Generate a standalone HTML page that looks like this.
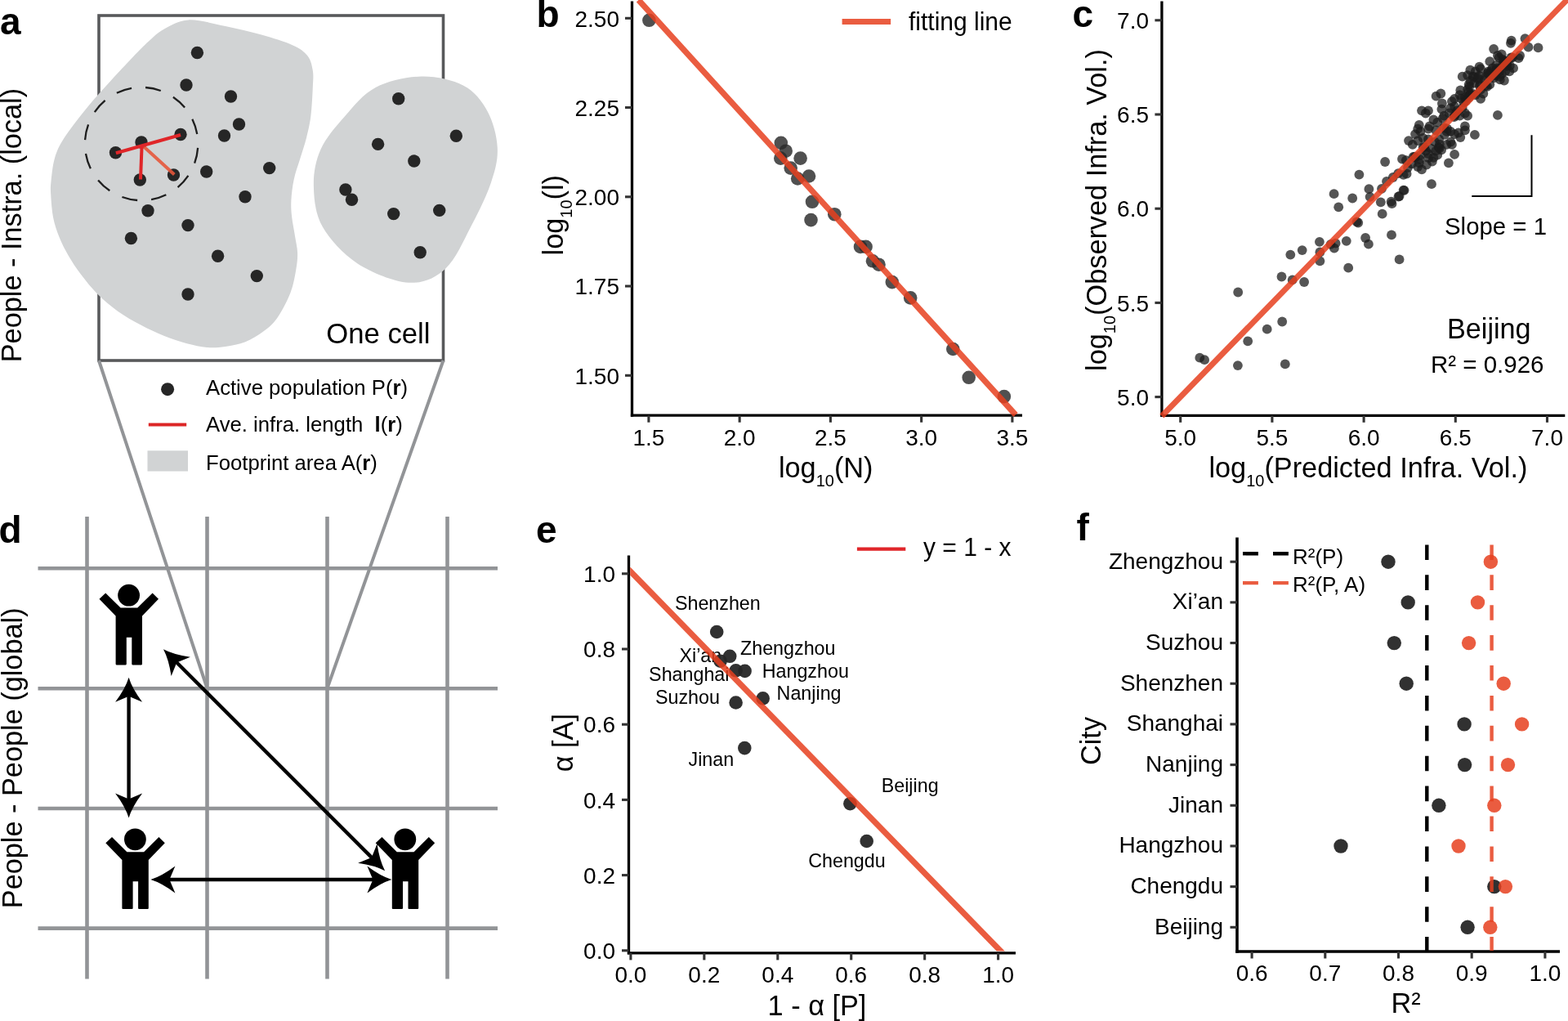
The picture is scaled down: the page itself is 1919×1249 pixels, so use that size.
<!DOCTYPE html>
<html><head><meta charset="utf-8"><style>
html,body{margin:0;padding:0;background:#fff;}
svg{display:block;}
text{font-family:'Liberation Sans', Arial, Helvetica, sans-serif;}
</style></head><body>
<svg width="1919" height="1249" viewBox="0 0 1919 1249">
<rect width="1919" height="1249" fill="#fff"/>
<rect x="121" y="19" width="421.5" height="422" fill="none" stroke="#58595b" stroke-width="3.6"/>
<path d="M230.6,24.4 C243.2,23.8 260.9,28.9 275.8,31.9 C290.7,34.9 306.2,38.7 320.0,42.6 C333.8,46.5 349.1,51.1 358.5,55.4 C367.9,59.7 372.3,63.1 376.4,68.2 C380.4,73.3 381.7,79.8 382.8,86.2 C383.9,92.6 383.2,97.3 382.8,106.7 C382.4,116.1 381.6,132.3 380.3,142.6 C379.0,152.8 377.2,159.7 375.1,168.2 C373.0,176.7 370.0,185.2 367.4,193.8 C364.8,202.4 361.5,210.9 359.7,219.5 C357.9,228.1 356.8,237.4 356.4,245.1 C356.0,252.8 356.4,258.3 357.2,265.6 C358.0,272.9 359.9,281.4 361.0,288.7 C362.1,296.0 363.9,302.4 364.1,309.2 C364.3,316.0 363.7,321.6 362.3,329.7 C360.9,337.8 359.2,348.2 355.5,358.0 C351.8,367.8 345.2,380.3 339.8,388.2 C334.4,396.1 329.5,400.1 322.9,405.1 C316.3,410.1 308.1,415.2 300.3,418.3 C292.5,421.4 283.7,422.8 275.8,423.9 C267.9,425.0 261.0,425.5 253.2,424.9 C245.4,424.3 237.6,422.5 228.8,420.2 C220.0,417.9 209.9,414.6 200.5,410.8 C191.1,407.0 181.7,402.6 172.3,397.6 C162.9,392.6 152.9,387.0 144.1,380.7 C135.3,374.4 127.1,367.5 119.6,360.0 C112.1,352.5 104.9,343.4 98.9,335.5 C93.0,327.6 88.3,320.4 83.9,312.9 C79.5,305.4 75.7,298.1 72.6,290.3 C69.5,282.5 66.8,274.7 65.1,265.9 C63.4,257.1 62.6,244.9 62.2,237.6 C61.8,230.3 61.7,229.3 62.5,222.0 C63.3,214.7 64.3,202.6 66.9,193.8 C69.5,185.0 71.6,179.7 78.2,169.3 C84.8,159.0 97.1,143.3 106.5,131.7 C115.9,120.1 125.3,110.0 134.7,99.7 C144.1,89.4 155.1,77.8 162.9,69.6 C170.7,61.4 175.4,56.4 181.7,50.8 C188.0,45.1 192.3,40.1 200.5,35.7 C208.7,31.3 218.0,25.0 230.6,24.4Z" fill="#d1d3d4"/>
<path d="M515.7,93.5 C533.6,93.1 553.8,97.6 567.3,104.7 C580.8,111.8 589.6,123.3 596.5,136.0 C603.4,148.7 608.1,166.3 608.8,180.9 C609.5,195.5 606.3,207.4 600.9,223.5 C595.5,239.6 585.6,259.7 576.3,277.3 C567.0,294.9 557.6,317.5 544.9,328.9 C532.2,340.3 517.9,346.8 500.0,345.7 C482.1,344.6 454.9,333.6 437.3,322.2 C419.8,310.8 403.6,293.0 394.7,277.3 C385.8,261.6 384.3,243.7 383.9,228.0 C383.5,212.3 386.1,197.3 392.4,183.1 C398.7,168.9 410.4,155.5 421.6,142.8 C432.8,130.1 444.0,115.1 459.7,106.9 C475.4,98.7 497.8,93.9 515.7,93.5Z" fill="#d1d3d4"/>
<path d="M185.12,244.15 A69.2,69.2 0 0 0 203.32,238.25" fill="none" stroke="#1e1e1e" stroke-width="2.3"/>
<path d="M217.58,229.01 A69.2,69.2 0 0 0 230.40,214.80" fill="none" stroke="#1e1e1e" stroke-width="2.3"/>
<path d="M238.13,199.67 A69.2,69.2 0 0 0 242.12,180.95" fill="none" stroke="#1e1e1e" stroke-width="2.3"/>
<path d="M241.25,163.98 A69.2,69.2 0 0 0 235.35,145.78" fill="none" stroke="#1e1e1e" stroke-width="2.3"/>
<path d="M226.11,131.52 A69.2,69.2 0 0 0 211.90,118.70" fill="none" stroke="#1e1e1e" stroke-width="2.3"/>
<path d="M196.77,110.97 A69.2,69.2 0 0 0 178.05,106.98" fill="none" stroke="#1e1e1e" stroke-width="2.3"/>
<path d="M161.08,107.85 A69.2,69.2 0 0 0 142.88,113.75" fill="none" stroke="#1e1e1e" stroke-width="2.3"/>
<path d="M128.62,122.99 A69.2,69.2 0 0 0 115.80,137.20" fill="none" stroke="#1e1e1e" stroke-width="2.3"/>
<path d="M108.07,152.33 A69.2,69.2 0 0 0 104.08,171.05" fill="none" stroke="#1e1e1e" stroke-width="2.3"/>
<path d="M104.95,188.02 A69.2,69.2 0 0 0 110.85,206.22" fill="none" stroke="#1e1e1e" stroke-width="2.3"/>
<path d="M120.09,220.48 A69.2,69.2 0 0 0 134.30,233.30" fill="none" stroke="#1e1e1e" stroke-width="2.3"/>
<path d="M149.43,241.03 A69.2,69.2 0 0 0 168.15,245.02" fill="none" stroke="#1e1e1e" stroke-width="2.3"/>
<circle cx="241.4" cy="64.5" r="7.7" fill="#262626"/>
<circle cx="228" cy="104" r="7.7" fill="#262626"/>
<circle cx="282.5" cy="118" r="7.7" fill="#262626"/>
<circle cx="292.5" cy="152" r="7.7" fill="#262626"/>
<circle cx="274.5" cy="166" r="7.7" fill="#262626"/>
<circle cx="221" cy="164.5" r="7.7" fill="#262626"/>
<circle cx="173" cy="174" r="7.7" fill="#262626"/>
<circle cx="141.5" cy="186.7" r="7.7" fill="#262626"/>
<circle cx="171.3" cy="220" r="7.7" fill="#262626"/>
<circle cx="212.5" cy="214" r="7.7" fill="#262626"/>
<circle cx="252.7" cy="210" r="7.7" fill="#262626"/>
<circle cx="329.7" cy="205.6" r="7.7" fill="#262626"/>
<circle cx="300" cy="240.8" r="7.7" fill="#262626"/>
<circle cx="181" cy="257.7" r="7.7" fill="#262626"/>
<circle cx="230" cy="275.6" r="7.7" fill="#262626"/>
<circle cx="160.4" cy="291.5" r="7.7" fill="#262626"/>
<circle cx="266.6" cy="313.3" r="7.7" fill="#262626"/>
<circle cx="314.3" cy="337.6" r="7.7" fill="#262626"/>
<circle cx="230" cy="360" r="7.7" fill="#262626"/>
<circle cx="487.7" cy="120.8" r="7.7" fill="#262626"/>
<circle cx="558.3" cy="166.3" r="7.7" fill="#262626"/>
<circle cx="462.6" cy="176.4" r="7.7" fill="#262626"/>
<circle cx="506.8" cy="197" r="7.7" fill="#262626"/>
<circle cx="422.9" cy="232" r="7.7" fill="#262626"/>
<circle cx="430.5" cy="244.3" r="7.7" fill="#262626"/>
<circle cx="481.7" cy="261.6" r="7.7" fill="#262626"/>
<circle cx="537.7" cy="257.4" r="7.7" fill="#262626"/>
<circle cx="514.2" cy="308.7" r="7.7" fill="#262626"/>
<g stroke-width="4" stroke-linecap="butt" fill="none">
<line x1="175" y1="178.5" x2="213.3" y2="213.4" stroke="#E5573B" stroke-opacity="0.9"/>
<line x1="173.6" y1="178" x2="172" y2="219.5" stroke="#E02629"/>
<line x1="141.9" y1="187.2" x2="221" y2="165" stroke="#E02629"/>
</g>
<text transform="translate(399.3,420.0) scale(1,1.02)" font-size="34.7" text-anchor="start" font-weight="normal" fill="#000" >One cell</text>
<line x1="121" y1="441" x2="253.5" y2="842" stroke="#929497" stroke-width="4"/>
<line x1="542.5" y1="441" x2="400.5" y2="842" stroke="#929497" stroke-width="4"/>
<circle cx="205.1" cy="476.2" r="8" fill="#262626"/>
<text x="252.0" y="483.0" font-size="25.7" text-anchor="start" font-weight="normal" fill="#000" >Active population P(<tspan font-weight="bold">r</tspan>)</text>
<line x1="181.8" y1="519.6" x2="228.2" y2="519.6" stroke="#DC2626" stroke-width="4"/>
<text x="252.0" y="527.7" font-size="25.7" text-anchor="start" font-weight="normal" fill="#000" >Ave. infra. length&#160;&#160;<tspan font-weight="bold">l</tspan>(<tspan font-weight="bold">r</tspan>)</text>
<rect x="180.5" y="551.3" width="49.5" height="25.2" fill="#d1d3d4"/>
<text x="252.0" y="574.6" font-size="25.7" text-anchor="start" font-weight="normal" fill="#000" >Footprint area A(<tspan font-weight="bold">r</tspan>)</text>
<text x="0.0" y="42.0" font-size="46" text-anchor="start" font-weight="bold" fill="#000" >a</text>
<text transform="translate(26,275.6) rotate(-90) scale(1,1.02)" font-size="34.3" text-anchor="middle">People - Instra. (local)</text>
<g stroke="#929497" stroke-width="4.6">
<line x1="106.5" y1="632" x2="106.5" y2="1197.5"/>
<line x1="253.5" y1="632" x2="253.5" y2="1197.5"/>
<line x1="400.5" y1="632" x2="400.5" y2="1197.5"/>
<line x1="547.5" y1="632" x2="547.5" y2="1197.5"/>
<line x1="46.5" y1="695.2" x2="609" y2="695.2"/>
<line x1="46.5" y1="842.2" x2="609" y2="842.2"/>
<line x1="46.5" y1="989" x2="609" y2="989"/>
<line x1="46.5" y1="1135.6" x2="609" y2="1135.6"/>
</g>
<text x="-1.5" y="664.0" font-size="46" text-anchor="start" font-weight="bold" fill="#000" >d</text>
<text transform="translate(26.5,927.3) rotate(-90) scale(1,1.02)" font-size="34.3" text-anchor="middle">People - People (global)</text>
<circle cx="157.6" cy="728.2" r="13.4" fill="#000"/><path d="M121.5,732.7 L129.2,725.4 L147.6,743.6 L168.3,743.6 L186.6,725.4 L194.0,732.7 L174.0,753.5 L174.0,812.3 Q174.0,813.4 173.0,813.4 L162.3,813.4 Q161.3,813.4 161.3,812.3 L161.3,779.7 L154.8,779.7 L154.8,812.3 Q154.8,813.4 153.8,813.4 L142.6,813.4 Q141.6,813.4 141.6,812.3 L141.6,753.5 Z" fill="#000"/>
<circle cx="165.4" cy="1026.8" r="13.4" fill="#000"/><path d="M129.3,1031.3 L137.0,1024.0 L155.4,1042.2 L176.1,1042.2 L194.4,1024.0 L201.8,1031.3 L181.8,1052.1 L181.8,1110.9 Q181.8,1112.0 180.8,1112.0 L170.1,1112.0 Q169.1,1112.0 169.1,1110.9 L169.1,1078.3 L162.6,1078.3 L162.6,1110.9 Q162.6,1112.0 161.6,1112.0 L150.4,1112.0 Q149.4,1112.0 149.4,1110.9 L149.4,1052.1 Z" fill="#000"/>
<circle cx="495.8" cy="1026.8" r="13.4" fill="#000"/><path d="M459.7,1031.3 L467.4,1024.0 L485.8,1042.2 L506.5,1042.2 L524.8,1024.0 L532.2,1031.3 L512.2,1052.1 L512.2,1110.9 Q512.2,1112.0 511.2,1112.0 L500.5,1112.0 Q499.5,1112.0 499.5,1110.9 L499.5,1078.3 L493.0,1078.3 L493.0,1110.9 Q493.0,1112.0 492.0,1112.0 L480.8,1112.0 Q479.8,1112.0 479.8,1110.9 L479.8,1052.1 Z" fill="#000"/>
<line x1="157.6" y1="848.7" x2="157.6" y2="980.5" stroke="#000" stroke-width="4.4"/>
<path d="M157.6,1000.5 Q161.7,987.0 174.1,970.5 L157.6,977.5 L141.1,970.5 Q153.5,987.0 157.6,1000.5 Z" fill="#000"/>
<path d="M157.6,828.7 Q153.5,842.2 141.1,858.7 L157.6,851.7 L174.1,858.7 Q161.7,842.2 157.6,828.7 Z" fill="#000"/>
<line x1="204.4" y1="1076.0" x2="459.4" y2="1076.0" stroke="#000" stroke-width="4.4"/>
<path d="M479.4,1076.0 Q465.9,1071.9 449.4,1059.5 L456.4,1076.0 L449.4,1092.5 Q465.9,1080.1 479.4,1076.0 Z" fill="#000"/>
<path d="M184.4,1076.0 Q197.9,1080.1 214.4,1092.5 L207.4,1076.0 L214.4,1059.5 Q197.9,1071.9 184.4,1076.0 Z" fill="#000"/>
<line x1="214.1" y1="808.3" x2="457.0" y2="1051.1" stroke="#000" stroke-width="4.4"/>
<path d="M471.1,1065.2 Q464.5,1052.7 461.5,1032.3 L454.8,1048.9 L438.2,1055.7 Q458.6,1058.6 471.1,1065.2 Z" fill="#000"/>
<path d="M200.0,794.2 Q206.6,806.7 209.6,827.1 L216.3,810.5 L232.9,803.7 Q212.5,800.8 200.0,794.2 Z" fill="#000"/>
<line x1="773.5" y1="1.5" x2="773.5" y2="509.84999999999997" stroke="#000" stroke-width="3.3"/>
<line x1="771.85" y1="508.2" x2="1251" y2="508.2" stroke="#000" stroke-width="3.3"/>
<line x1="765.0" y1="22.3" x2="773.5" y2="22.3" stroke="#333" stroke-width="3.1"/>
<text transform="translate(758.0,32.5) scale(1,1.02)" font-size="28" text-anchor="end" font-weight="normal" fill="#000" >2.50</text>
<line x1="765.0" y1="131.55" x2="773.5" y2="131.55" stroke="#333" stroke-width="3.1"/>
<text transform="translate(758.0,141.8) scale(1,1.02)" font-size="28" text-anchor="end" font-weight="normal" fill="#000" >2.25</text>
<line x1="765.0" y1="240.8" x2="773.5" y2="240.8" stroke="#333" stroke-width="3.1"/>
<text transform="translate(758.0,251.0) scale(1,1.02)" font-size="28" text-anchor="end" font-weight="normal" fill="#000" >2.00</text>
<line x1="765.0" y1="350.05" x2="773.5" y2="350.05" stroke="#333" stroke-width="3.1"/>
<text transform="translate(758.0,360.2) scale(1,1.02)" font-size="28" text-anchor="end" font-weight="normal" fill="#000" >1.75</text>
<line x1="765.0" y1="459.3" x2="773.5" y2="459.3" stroke="#333" stroke-width="3.1"/>
<text transform="translate(758.0,469.5) scale(1,1.02)" font-size="28" text-anchor="end" font-weight="normal" fill="#000" >1.50</text>
<line x1="793.9" y1="508.2" x2="793.9" y2="516.7" stroke="#333" stroke-width="3.1"/>
<text transform="translate(793.9,544.6) scale(1,1.02)" font-size="28" text-anchor="middle" font-weight="normal" fill="#000" >1.5</text>
<line x1="905.15" y1="508.2" x2="905.15" y2="516.7" stroke="#333" stroke-width="3.1"/>
<text transform="translate(905.1,544.6) scale(1,1.02)" font-size="28" text-anchor="middle" font-weight="normal" fill="#000" >2.0</text>
<line x1="1016.4" y1="508.2" x2="1016.4" y2="516.7" stroke="#333" stroke-width="3.1"/>
<text transform="translate(1016.4,544.6) scale(1,1.02)" font-size="28" text-anchor="middle" font-weight="normal" fill="#000" >2.5</text>
<line x1="1127.65" y1="508.2" x2="1127.65" y2="516.7" stroke="#333" stroke-width="3.1"/>
<text transform="translate(1127.7,544.6) scale(1,1.02)" font-size="28" text-anchor="middle" font-weight="normal" fill="#000" >3.0</text>
<line x1="1238.9" y1="508.2" x2="1238.9" y2="516.7" stroke="#333" stroke-width="3.1"/>
<text transform="translate(1238.9,544.6) scale(1,1.02)" font-size="28" text-anchor="middle" font-weight="normal" fill="#000" >3.5</text>
<circle cx="794.4" cy="24.8" r="8.3" fill="#2a2a2a" fill-opacity="0.82"/>
<circle cx="955.8" cy="174.8" r="8.3" fill="#2a2a2a" fill-opacity="0.82"/>
<circle cx="961.7" cy="184.7" r="8.3" fill="#2a2a2a" fill-opacity="0.82"/>
<circle cx="955.3" cy="193.6" r="8.3" fill="#2a2a2a" fill-opacity="0.82"/>
<circle cx="979.6" cy="193.6" r="8.3" fill="#2a2a2a" fill-opacity="0.82"/>
<circle cx="967.7" cy="205.6" r="8.3" fill="#2a2a2a" fill-opacity="0.82"/>
<circle cx="976.2" cy="218.5" r="8.3" fill="#2a2a2a" fill-opacity="0.82"/>
<circle cx="990" cy="215.5" r="8.3" fill="#2a2a2a" fill-opacity="0.82"/>
<circle cx="994" cy="246.8" r="8.3" fill="#2a2a2a" fill-opacity="0.82"/>
<circle cx="992.5" cy="269.1" r="8.3" fill="#2a2a2a" fill-opacity="0.82"/>
<circle cx="1021.3" cy="262.2" r="8.3" fill="#2a2a2a" fill-opacity="0.82"/>
<circle cx="1053" cy="301.9" r="8.3" fill="#2a2a2a" fill-opacity="0.82"/>
<circle cx="1059.6" cy="301.9" r="8.3" fill="#2a2a2a" fill-opacity="0.82"/>
<circle cx="1068" cy="319.3" r="8.3" fill="#2a2a2a" fill-opacity="0.82"/>
<circle cx="1075.5" cy="323.7" r="8.3" fill="#2a2a2a" fill-opacity="0.82"/>
<circle cx="1091.8" cy="345.1" r="8.3" fill="#2a2a2a" fill-opacity="0.82"/>
<circle cx="1114.2" cy="364.4" r="8.3" fill="#2a2a2a" fill-opacity="0.82"/>
<circle cx="1166.3" cy="427" r="8.3" fill="#2a2a2a" fill-opacity="0.82"/>
<circle cx="1185.7" cy="461.8" r="8.3" fill="#2a2a2a" fill-opacity="0.82"/>
<circle cx="1228.9" cy="485.1" r="8.3" fill="#2a2a2a" fill-opacity="0.82"/>
<line x1="781.5" y1="0" x2="1243" y2="507.5" stroke="#E63F1F" stroke-width="7.2" stroke-opacity="0.85"/>
<line x1="1030.6" y1="26.5" x2="1090.1" y2="26.5" stroke="#E63F1F" stroke-width="7.2" stroke-opacity="0.85"/>
<text transform="translate(1112.0,36.6) scale(1,1.02)" font-size="30" text-anchor="start" font-weight="normal" fill="#000" >fitting line</text>
<text x="656.5" y="33.0" font-size="46" text-anchor="start" font-weight="bold" fill="#000" >b</text>
<text transform="translate(1010.7,583.6) scale(1,1.02)" font-size="34.3" text-anchor="middle">log<tspan font-size="20" dy="11.3">10</tspan><tspan dy="-11.3">(N)</tspan></text>
<text transform="translate(688.8,263.2) rotate(-90) scale(1,1.02)" font-size="34.3" text-anchor="middle">log<tspan font-size="20" dy="11.3">10</tspan><tspan dy="-11.3">(l)</tspan></text>
<line x1="1421.9" y1="1.5" x2="1421.9" y2="509.95" stroke="#000" stroke-width="3.3"/>
<line x1="1420.25" y1="508.3" x2="1915.3" y2="508.3" stroke="#000" stroke-width="3.3"/>
<line x1="1413.4" y1="24.80000000000001" x2="1421.9" y2="24.80000000000001" stroke="#333" stroke-width="3.1"/>
<text transform="translate(1406.0,35.0) scale(1,1.02)" font-size="28" text-anchor="end" font-weight="normal" fill="#000" >7.0</text>
<line x1="1413.4" y1="140.0" x2="1421.9" y2="140.0" stroke="#333" stroke-width="3.1"/>
<text transform="translate(1406.0,150.2) scale(1,1.02)" font-size="28" text-anchor="end" font-weight="normal" fill="#000" >6.5</text>
<line x1="1413.4" y1="255.20000000000002" x2="1421.9" y2="255.20000000000002" stroke="#333" stroke-width="3.1"/>
<text transform="translate(1406.0,265.4) scale(1,1.02)" font-size="28" text-anchor="end" font-weight="normal" fill="#000" >6.0</text>
<line x1="1413.4" y1="370.40000000000003" x2="1421.9" y2="370.40000000000003" stroke="#333" stroke-width="3.1"/>
<text transform="translate(1406.0,380.6) scale(1,1.02)" font-size="28" text-anchor="end" font-weight="normal" fill="#000" >5.5</text>
<line x1="1413.4" y1="485.6" x2="1421.9" y2="485.6" stroke="#333" stroke-width="3.1"/>
<text transform="translate(1406.0,495.8) scale(1,1.02)" font-size="28" text-anchor="end" font-weight="normal" fill="#000" >5.0</text>
<line x1="1444.7" y1="508.3" x2="1444.7" y2="516.8" stroke="#333" stroke-width="3.1"/>
<text transform="translate(1444.7,544.6) scale(1,1.02)" font-size="28" text-anchor="middle" font-weight="normal" fill="#000" >5.0</text>
<line x1="1556.9" y1="508.3" x2="1556.9" y2="516.8" stroke="#333" stroke-width="3.1"/>
<text transform="translate(1556.9,544.6) scale(1,1.02)" font-size="28" text-anchor="middle" font-weight="normal" fill="#000" >5.5</text>
<line x1="1669.1000000000001" y1="508.3" x2="1669.1000000000001" y2="516.8" stroke="#333" stroke-width="3.1"/>
<text transform="translate(1669.1,544.6) scale(1,1.02)" font-size="28" text-anchor="middle" font-weight="normal" fill="#000" >6.0</text>
<line x1="1781.3000000000002" y1="508.3" x2="1781.3000000000002" y2="516.8" stroke="#333" stroke-width="3.1"/>
<text transform="translate(1781.3,544.6) scale(1,1.02)" font-size="28" text-anchor="middle" font-weight="normal" fill="#000" >6.5</text>
<line x1="1893.5" y1="508.3" x2="1893.5" y2="516.8" stroke="#333" stroke-width="3.1"/>
<text transform="translate(1893.5,544.6) scale(1,1.02)" font-size="28" text-anchor="middle" font-weight="normal" fill="#000" >7.0</text>
<circle cx="1849.7" cy="49.6" r="5.9" fill="#1c1c1c" fill-opacity="0.75"/>
<circle cx="1848.9" cy="52.8" r="5.9" fill="#1c1c1c" fill-opacity="0.75"/>
<circle cx="1866.5" cy="47.2" r="5.9" fill="#1c1c1c" fill-opacity="0.75"/>
<circle cx="1870.5" cy="57.6" r="5.9" fill="#1c1c1c" fill-opacity="0.75"/>
<circle cx="1882.5" cy="58.4" r="5.9" fill="#1c1c1c" fill-opacity="0.75"/>
<circle cx="1860.1" cy="68.0" r="5.9" fill="#1c1c1c" fill-opacity="0.75"/>
<circle cx="1858.5" cy="71.2" r="5.9" fill="#1c1c1c" fill-opacity="0.75"/>
<circle cx="1852.1" cy="83.3" r="5.9" fill="#1c1c1c" fill-opacity="0.75"/>
<circle cx="1840.9" cy="98.5" r="5.9" fill="#1c1c1c" fill-opacity="0.75"/>
<circle cx="1828.1" cy="60.0" r="5.9" fill="#1c1c1c" fill-opacity="0.75"/>
<circle cx="1823.3" cy="75.2" r="5.9" fill="#1c1c1c" fill-opacity="0.75"/>
<circle cx="1832.9" cy="68.0" r="5.9" fill="#1c1c1c" fill-opacity="0.75"/>
<circle cx="1837.7" cy="66.4" r="5.9" fill="#1c1c1c" fill-opacity="0.75"/>
<circle cx="1840.9" cy="74.4" r="5.9" fill="#1c1c1c" fill-opacity="0.75"/>
<circle cx="1844.1" cy="80.8" r="5.9" fill="#1c1c1c" fill-opacity="0.75"/>
<circle cx="1847.3" cy="87.3" r="5.9" fill="#1c1c1c" fill-opacity="0.75"/>
<circle cx="1834.5" cy="84.1" r="5.9" fill="#1c1c1c" fill-opacity="0.75"/>
<circle cx="1831.3" cy="92.1" r="5.9" fill="#1c1c1c" fill-opacity="0.75"/>
<circle cx="1828.1" cy="95.3" r="5.9" fill="#1c1c1c" fill-opacity="0.75"/>
<circle cx="1837.7" cy="90.5" r="5.9" fill="#1c1c1c" fill-opacity="0.75"/>
<circle cx="1821.7" cy="87.3" r="5.9" fill="#1c1c1c" fill-opacity="0.75"/>
<circle cx="1818.5" cy="93.7" r="5.9" fill="#1c1c1c" fill-opacity="0.75"/>
<circle cx="1823.3" cy="103.3" r="5.9" fill="#1c1c1c" fill-opacity="0.75"/>
<circle cx="1812.1" cy="84.1" r="5.9" fill="#1c1c1c" fill-opacity="0.75"/>
<circle cx="1805.7" cy="87.3" r="5.9" fill="#1c1c1c" fill-opacity="0.75"/>
<circle cx="1799.3" cy="85.7" r="5.9" fill="#1c1c1c" fill-opacity="0.75"/>
<circle cx="1789.7" cy="93.7" r="5.9" fill="#1c1c1c" fill-opacity="0.75"/>
<circle cx="1796.1" cy="92.1" r="5.9" fill="#1c1c1c" fill-opacity="0.75"/>
<circle cx="1802.5" cy="93.7" r="5.9" fill="#1c1c1c" fill-opacity="0.75"/>
<circle cx="1808.9" cy="96.9" r="5.9" fill="#1c1c1c" fill-opacity="0.75"/>
<circle cx="1812.1" cy="103.3" r="5.9" fill="#1c1c1c" fill-opacity="0.75"/>
<circle cx="1804.1" cy="101.7" r="5.9" fill="#1c1c1c" fill-opacity="0.75"/>
<circle cx="1797.7" cy="103.3" r="5.9" fill="#1c1c1c" fill-opacity="0.75"/>
<circle cx="1796.1" cy="109.7" r="5.9" fill="#1c1c1c" fill-opacity="0.75"/>
<circle cx="1787.3" cy="110.5" r="5.9" fill="#1c1c1c" fill-opacity="0.75"/>
<circle cx="1812.1" cy="109.7" r="5.9" fill="#1c1c1c" fill-opacity="0.75"/>
<circle cx="1812.1" cy="120.9" r="5.9" fill="#1c1c1c" fill-opacity="0.75"/>
<circle cx="1818.5" cy="104.9" r="5.9" fill="#1c1c1c" fill-opacity="0.75"/>
<circle cx="1815.3" cy="114.5" r="5.9" fill="#1c1c1c" fill-opacity="0.75"/>
<circle cx="1805.7" cy="116.1" r="5.9" fill="#1c1c1c" fill-opacity="0.75"/>
<circle cx="1799.3" cy="116.1" r="5.9" fill="#1c1c1c" fill-opacity="0.75"/>
<circle cx="1792.9" cy="119.3" r="5.9" fill="#1c1c1c" fill-opacity="0.75"/>
<circle cx="1786.5" cy="116.1" r="5.9" fill="#1c1c1c" fill-opacity="0.75"/>
<circle cx="1780.1" cy="120.9" r="5.9" fill="#1c1c1c" fill-opacity="0.75"/>
<circle cx="1776.9" cy="124.1" r="5.9" fill="#1c1c1c" fill-opacity="0.75"/>
<circle cx="1775.3" cy="132.1" r="5.9" fill="#1c1c1c" fill-opacity="0.75"/>
<circle cx="1780.1" cy="130.5" r="5.9" fill="#1c1c1c" fill-opacity="0.75"/>
<circle cx="1783.3" cy="135.3" r="5.9" fill="#1c1c1c" fill-opacity="0.75"/>
<circle cx="1789.7" cy="132.1" r="5.9" fill="#1c1c1c" fill-opacity="0.75"/>
<circle cx="1792.9" cy="138.5" r="5.9" fill="#1c1c1c" fill-opacity="0.75"/>
<circle cx="1796.1" cy="141.7" r="5.9" fill="#1c1c1c" fill-opacity="0.75"/>
<circle cx="1786.5" cy="141.7" r="5.9" fill="#1c1c1c" fill-opacity="0.75"/>
<circle cx="1780.1" cy="141.7" r="5.9" fill="#1c1c1c" fill-opacity="0.75"/>
<circle cx="1773.7" cy="138.5" r="5.9" fill="#1c1c1c" fill-opacity="0.75"/>
<circle cx="1767.3" cy="141.7" r="5.9" fill="#1c1c1c" fill-opacity="0.75"/>
<circle cx="1765.7" cy="144.9" r="5.9" fill="#1c1c1c" fill-opacity="0.75"/>
<circle cx="1763.3" cy="114.5" r="5.9" fill="#1c1c1c" fill-opacity="0.75"/>
<circle cx="1757.6" cy="117.7" r="5.9" fill="#1c1c1c" fill-opacity="0.75"/>
<circle cx="1764.9" cy="126.5" r="5.9" fill="#1c1c1c" fill-opacity="0.75"/>
<circle cx="1740.0" cy="135.3" r="5.9" fill="#1c1c1c" fill-opacity="0.75"/>
<circle cx="1748.0" cy="135.3" r="5.9" fill="#1c1c1c" fill-opacity="0.75"/>
<circle cx="1744.8" cy="138.5" r="5.9" fill="#1c1c1c" fill-opacity="0.75"/>
<circle cx="1754.4" cy="146.5" r="5.9" fill="#1c1c1c" fill-opacity="0.75"/>
<circle cx="1759.2" cy="149.7" r="5.9" fill="#1c1c1c" fill-opacity="0.75"/>
<circle cx="1749.6" cy="154.5" r="5.9" fill="#1c1c1c" fill-opacity="0.75"/>
<circle cx="1736.8" cy="152.9" r="5.9" fill="#1c1c1c" fill-opacity="0.75"/>
<circle cx="1735.2" cy="157.7" r="5.9" fill="#1c1c1c" fill-opacity="0.75"/>
<circle cx="1738.4" cy="160.9" r="5.9" fill="#1c1c1c" fill-opacity="0.75"/>
<circle cx="1732.0" cy="164.1" r="5.9" fill="#1c1c1c" fill-opacity="0.75"/>
<circle cx="1748.0" cy="157.7" r="5.9" fill="#1c1c1c" fill-opacity="0.75"/>
<circle cx="1767.3" cy="156.1" r="5.9" fill="#1c1c1c" fill-opacity="0.75"/>
<circle cx="1770.5" cy="160.9" r="5.9" fill="#1c1c1c" fill-opacity="0.75"/>
<circle cx="1775.3" cy="160.9" r="5.9" fill="#1c1c1c" fill-opacity="0.75"/>
<circle cx="1780.1" cy="164.1" r="5.9" fill="#1c1c1c" fill-opacity="0.75"/>
<circle cx="1784.9" cy="162.5" r="5.9" fill="#1c1c1c" fill-opacity="0.75"/>
<circle cx="1787.3" cy="168.1" r="5.9" fill="#1c1c1c" fill-opacity="0.75"/>
<circle cx="1792.9" cy="154.5" r="5.9" fill="#1c1c1c" fill-opacity="0.75"/>
<circle cx="1792.9" cy="159.3" r="5.9" fill="#1c1c1c" fill-opacity="0.75"/>
<circle cx="1804.9" cy="164.9" r="5.9" fill="#1c1c1c" fill-opacity="0.75"/>
<circle cx="1832.9" cy="140.9" r="5.9" fill="#1c1c1c" fill-opacity="0.75"/>
<circle cx="1724.0" cy="172.1" r="5.9" fill="#1c1c1c" fill-opacity="0.75"/>
<circle cx="1728.8" cy="176.9" r="5.9" fill="#1c1c1c" fill-opacity="0.75"/>
<circle cx="1735.2" cy="172.1" r="5.9" fill="#1c1c1c" fill-opacity="0.75"/>
<circle cx="1741.6" cy="168.9" r="5.9" fill="#1c1c1c" fill-opacity="0.75"/>
<circle cx="1748.0" cy="170.5" r="5.9" fill="#1c1c1c" fill-opacity="0.75"/>
<circle cx="1756.0" cy="173.7" r="5.9" fill="#1c1c1c" fill-opacity="0.75"/>
<circle cx="1760.8" cy="180.1" r="5.9" fill="#1c1c1c" fill-opacity="0.75"/>
<circle cx="1764.1" cy="183.3" r="5.9" fill="#1c1c1c" fill-opacity="0.75"/>
<circle cx="1770.5" cy="176.9" r="5.9" fill="#1c1c1c" fill-opacity="0.75"/>
<circle cx="1775.3" cy="173.7" r="5.9" fill="#1c1c1c" fill-opacity="0.75"/>
<circle cx="1776.9" cy="176.9" r="5.9" fill="#1c1c1c" fill-opacity="0.75"/>
<circle cx="1780.1" cy="188.9" r="5.9" fill="#1c1c1c" fill-opacity="0.75"/>
<circle cx="1772.9" cy="199.3" r="5.9" fill="#1c1c1c" fill-opacity="0.75"/>
<circle cx="1759.2" cy="189.7" r="5.9" fill="#1c1c1c" fill-opacity="0.75"/>
<circle cx="1754.4" cy="192.9" r="5.9" fill="#1c1c1c" fill-opacity="0.75"/>
<circle cx="1748.0" cy="188.1" r="5.9" fill="#1c1c1c" fill-opacity="0.75"/>
<circle cx="1741.6" cy="180.1" r="5.9" fill="#1c1c1c" fill-opacity="0.75"/>
<circle cx="1738.4" cy="189.7" r="5.9" fill="#1c1c1c" fill-opacity="0.75"/>
<circle cx="1732.0" cy="192.9" r="5.9" fill="#1c1c1c" fill-opacity="0.75"/>
<circle cx="1736.8" cy="199.3" r="5.9" fill="#1c1c1c" fill-opacity="0.75"/>
<circle cx="1740.0" cy="207.3" r="5.9" fill="#1c1c1c" fill-opacity="0.75"/>
<circle cx="1735.2" cy="204.1" r="5.9" fill="#1c1c1c" fill-opacity="0.75"/>
<circle cx="1716.0" cy="194.5" r="5.9" fill="#1c1c1c" fill-opacity="0.75"/>
<circle cx="1720.8" cy="196.1" r="5.9" fill="#1c1c1c" fill-opacity="0.75"/>
<circle cx="1711.2" cy="212.2" r="5.9" fill="#1c1c1c" fill-opacity="0.75"/>
<circle cx="1717.6" cy="213.8" r="5.9" fill="#1c1c1c" fill-opacity="0.75"/>
<circle cx="1704.8" cy="217.0" r="5.9" fill="#1c1c1c" fill-opacity="0.75"/>
<circle cx="1743.2" cy="180.1" r="5.9" fill="#1c1c1c" fill-opacity="0.75"/>
<circle cx="1751.2" cy="181.7" r="5.9" fill="#1c1c1c" fill-opacity="0.75"/>
<circle cx="1752.8" cy="197.7" r="5.9" fill="#1c1c1c" fill-opacity="0.75"/>
<circle cx="1752.0" cy="225.2" r="5.9" fill="#1c1c1c" fill-opacity="0.75"/>
<circle cx="1717.6" cy="232.6" r="5.9" fill="#1c1c1c" fill-opacity="0.75"/>
<circle cx="1711.5" cy="240.5" r="5.9" fill="#1c1c1c" fill-opacity="0.75"/>
<circle cx="1702.6" cy="246.7" r="5.9" fill="#1c1c1c" fill-opacity="0.75"/>
<circle cx="1468.3" cy="437.7" r="5.9" fill="#1c1c1c" fill-opacity="0.75"/>
<circle cx="1474.1" cy="440.2" r="5.9" fill="#1c1c1c" fill-opacity="0.75"/>
<circle cx="1514.9" cy="447.1" r="5.9" fill="#1c1c1c" fill-opacity="0.75"/>
<circle cx="1572.8" cy="445.4" r="5.9" fill="#1c1c1c" fill-opacity="0.75"/>
<circle cx="1527.2" cy="417.3" r="5.9" fill="#1c1c1c" fill-opacity="0.75"/>
<circle cx="1550.7" cy="402.7" r="5.9" fill="#1c1c1c" fill-opacity="0.75"/>
<circle cx="1569.2" cy="393.5" r="5.9" fill="#1c1c1c" fill-opacity="0.75"/>
<circle cx="1515.2" cy="357.5" r="5.9" fill="#1c1c1c" fill-opacity="0.75"/>
<circle cx="1568.5" cy="338.5" r="5.9" fill="#1c1c1c" fill-opacity="0.75"/>
<circle cx="1581.7" cy="342.4" r="5.9" fill="#1c1c1c" fill-opacity="0.75"/>
<circle cx="1596.1" cy="345.0" r="5.9" fill="#1c1c1c" fill-opacity="0.75"/>
<circle cx="1579.3" cy="311.6" r="5.9" fill="#1c1c1c" fill-opacity="0.75"/>
<circle cx="1593.7" cy="306.1" r="5.9" fill="#1c1c1c" fill-opacity="0.75"/>
<circle cx="1614.9" cy="295.8" r="5.9" fill="#1c1c1c" fill-opacity="0.75"/>
<circle cx="1615.4" cy="308.5" r="5.9" fill="#1c1c1c" fill-opacity="0.75"/>
<circle cx="1615.4" cy="319.3" r="5.9" fill="#1c1c1c" fill-opacity="0.75"/>
<circle cx="1628.6" cy="298.9" r="5.9" fill="#1c1c1c" fill-opacity="0.75"/>
<circle cx="1634.6" cy="297.7" r="5.9" fill="#1c1c1c" fill-opacity="0.75"/>
<circle cx="1632.9" cy="303.7" r="5.9" fill="#1c1c1c" fill-opacity="0.75"/>
<circle cx="1647.8" cy="294.8" r="5.9" fill="#1c1c1c" fill-opacity="0.75"/>
<circle cx="1650.2" cy="327.7" r="5.9" fill="#1c1c1c" fill-opacity="0.75"/>
<circle cx="1671.1" cy="291.0" r="5.9" fill="#1c1c1c" fill-opacity="0.75"/>
<circle cx="1674.9" cy="298.7" r="5.9" fill="#1c1c1c" fill-opacity="0.75"/>
<circle cx="1703.0" cy="287.4" r="5.9" fill="#1c1c1c" fill-opacity="0.75"/>
<circle cx="1712.6" cy="317.4" r="5.9" fill="#1c1c1c" fill-opacity="0.75"/>
<circle cx="1660.5" cy="271.3" r="5.9" fill="#1c1c1c" fill-opacity="0.75"/>
<circle cx="1662.2" cy="272.5" r="5.9" fill="#1c1c1c" fill-opacity="0.75"/>
<circle cx="1632.6" cy="237.2" r="5.9" fill="#1c1c1c" fill-opacity="0.75"/>
<circle cx="1638.2" cy="253.3" r="5.9" fill="#1c1c1c" fill-opacity="0.75"/>
<circle cx="1655.2" cy="242.5" r="5.9" fill="#1c1c1c" fill-opacity="0.75"/>
<circle cx="1663.4" cy="213.6" r="5.9" fill="#1c1c1c" fill-opacity="0.75"/>
<circle cx="1675.4" cy="231.2" r="5.9" fill="#1c1c1c" fill-opacity="0.75"/>
<circle cx="1676.6" cy="240.8" r="5.9" fill="#1c1c1c" fill-opacity="0.75"/>
<circle cx="1689.8" cy="247.3" r="5.9" fill="#1c1c1c" fill-opacity="0.75"/>
<circle cx="1691.7" cy="261.7" r="5.9" fill="#1c1c1c" fill-opacity="0.75"/>
<circle cx="1703.5" cy="249.2" r="5.9" fill="#1c1c1c" fill-opacity="0.75"/>
<circle cx="1691.0" cy="230.9" r="5.9" fill="#1c1c1c" fill-opacity="0.75"/>
<circle cx="1697.0" cy="222.0" r="5.9" fill="#1c1c1c" fill-opacity="0.75"/>
<circle cx="1695.1" cy="198.0" r="5.9" fill="#1c1c1c" fill-opacity="0.75"/>
<circle cx="1712.6" cy="240.0" r="5.9" fill="#1c1c1c" fill-opacity="0.75"/>
<circle cx="1718.6" cy="232.8" r="5.9" fill="#1c1c1c" fill-opacity="0.75"/>
<circle cx="1835.2" cy="87.3" r="5.9" fill="#1c1c1c" fill-opacity="0.75"/>
<circle cx="1831.9" cy="83.4" r="5.9" fill="#1c1c1c" fill-opacity="0.75"/>
<circle cx="1824.1" cy="92.4" r="5.9" fill="#1c1c1c" fill-opacity="0.75"/>
<circle cx="1851.0" cy="70.3" r="5.9" fill="#1c1c1c" fill-opacity="0.75"/>
<circle cx="1849.3" cy="70.5" r="5.9" fill="#1c1c1c" fill-opacity="0.75"/>
<circle cx="1841.5" cy="78.0" r="5.9" fill="#1c1c1c" fill-opacity="0.75"/>
<circle cx="1820.1" cy="105.9" r="5.9" fill="#1c1c1c" fill-opacity="0.75"/>
<circle cx="1844.2" cy="78.0" r="5.9" fill="#1c1c1c" fill-opacity="0.75"/>
<circle cx="1808.3" cy="95.0" r="5.9" fill="#1c1c1c" fill-opacity="0.75"/>
<circle cx="1823.4" cy="90.8" r="5.9" fill="#1c1c1c" fill-opacity="0.75"/>
<circle cx="1839.4" cy="78.1" r="5.9" fill="#1c1c1c" fill-opacity="0.75"/>
<circle cx="1839.3" cy="72.9" r="5.9" fill="#1c1c1c" fill-opacity="0.75"/>
<circle cx="1841.4" cy="80.0" r="5.9" fill="#1c1c1c" fill-opacity="0.75"/>
<circle cx="1835.8" cy="97.4" r="5.9" fill="#1c1c1c" fill-opacity="0.75"/>
<circle cx="1847.8" cy="80.4" r="5.9" fill="#1c1c1c" fill-opacity="0.75"/>
<circle cx="1825.4" cy="86.3" r="5.9" fill="#1c1c1c" fill-opacity="0.75"/>
<circle cx="1831.5" cy="85.7" r="5.9" fill="#1c1c1c" fill-opacity="0.75"/>
<circle cx="1844.6" cy="75.4" r="5.9" fill="#1c1c1c" fill-opacity="0.75"/>
<circle cx="1826.5" cy="83.3" r="5.9" fill="#1c1c1c" fill-opacity="0.75"/>
<circle cx="1835.2" cy="93.6" r="5.9" fill="#1c1c1c" fill-opacity="0.75"/>
<circle cx="1827.5" cy="92.8" r="5.9" fill="#1c1c1c" fill-opacity="0.75"/>
<circle cx="1834.5" cy="70.4" r="5.9" fill="#1c1c1c" fill-opacity="0.75"/>
<circle cx="1842.3" cy="87.0" r="5.9" fill="#1c1c1c" fill-opacity="0.75"/>
<circle cx="1810.8" cy="105.0" r="5.9" fill="#1c1c1c" fill-opacity="0.75"/>
<circle cx="1831.1" cy="79.8" r="5.9" fill="#1c1c1c" fill-opacity="0.75"/>
<circle cx="1841.6" cy="75.7" r="5.9" fill="#1c1c1c" fill-opacity="0.75"/>
<circle cx="1799.4" cy="115.2" r="5.9" fill="#1c1c1c" fill-opacity="0.75"/>
<circle cx="1817.0" cy="98.0" r="5.9" fill="#1c1c1c" fill-opacity="0.75"/>
<circle cx="1821.0" cy="89.5" r="5.9" fill="#1c1c1c" fill-opacity="0.75"/>
<circle cx="1804.0" cy="94.1" r="5.9" fill="#1c1c1c" fill-opacity="0.75"/>
<circle cx="1810.6" cy="92.6" r="5.9" fill="#1c1c1c" fill-opacity="0.75"/>
<circle cx="1799.5" cy="99.0" r="5.9" fill="#1c1c1c" fill-opacity="0.75"/>
<circle cx="1798.2" cy="106.0" r="5.9" fill="#1c1c1c" fill-opacity="0.75"/>
<circle cx="1810.5" cy="81.7" r="5.9" fill="#1c1c1c" fill-opacity="0.75"/>
<circle cx="1797.2" cy="112.9" r="5.9" fill="#1c1c1c" fill-opacity="0.75"/>
<circle cx="1821.9" cy="90.2" r="5.9" fill="#1c1c1c" fill-opacity="0.75"/>
<circle cx="1764.4" cy="133.6" r="5.9" fill="#1c1c1c" fill-opacity="0.75"/>
<circle cx="1788.4" cy="120.7" r="5.9" fill="#1c1c1c" fill-opacity="0.75"/>
<circle cx="1782.2" cy="138.4" r="5.9" fill="#1c1c1c" fill-opacity="0.75"/>
<circle cx="1797.4" cy="117.4" r="5.9" fill="#1c1c1c" fill-opacity="0.75"/>
<circle cx="1791.4" cy="125.4" r="5.9" fill="#1c1c1c" fill-opacity="0.75"/>
<circle cx="1802.9" cy="114.8" r="5.9" fill="#1c1c1c" fill-opacity="0.75"/>
<circle cx="1794.0" cy="123.5" r="5.9" fill="#1c1c1c" fill-opacity="0.75"/>
<circle cx="1779.6" cy="143.1" r="5.9" fill="#1c1c1c" fill-opacity="0.75"/>
<circle cx="1797.4" cy="119.8" r="5.9" fill="#1c1c1c" fill-opacity="0.75"/>
<circle cx="1727.8" cy="200.3" r="5.9" fill="#1c1c1c" fill-opacity="0.75"/>
<circle cx="1757.4" cy="159.5" r="5.9" fill="#1c1c1c" fill-opacity="0.75"/>
<circle cx="1757.2" cy="184.7" r="5.9" fill="#1c1c1c" fill-opacity="0.75"/>
<circle cx="1745.9" cy="201.5" r="5.9" fill="#1c1c1c" fill-opacity="0.75"/>
<circle cx="1761.2" cy="170.4" r="5.9" fill="#1c1c1c" fill-opacity="0.75"/>
<circle cx="1761.9" cy="176.7" r="5.9" fill="#1c1c1c" fill-opacity="0.75"/>
<circle cx="1761.5" cy="181.4" r="5.9" fill="#1c1c1c" fill-opacity="0.75"/>
<circle cx="1745.0" cy="184.6" r="5.9" fill="#1c1c1c" fill-opacity="0.75"/>
<circle cx="1768.0" cy="164.9" r="5.9" fill="#1c1c1c" fill-opacity="0.75"/>
<circle cx="1748.3" cy="193.2" r="5.9" fill="#1c1c1c" fill-opacity="0.75"/>
<circle cx="1771.1" cy="157.5" r="5.9" fill="#1c1c1c" fill-opacity="0.75"/>
<circle cx="1737.4" cy="194.9" r="5.9" fill="#1c1c1c" fill-opacity="0.75"/>
<circle cx="1723.0" cy="205.1" r="5.9" fill="#1c1c1c" fill-opacity="0.75"/>
<circle cx="1731.4" cy="191.6" r="5.9" fill="#1c1c1c" fill-opacity="0.75"/>
<circle cx="1729.6" cy="191.9" r="5.9" fill="#1c1c1c" fill-opacity="0.75"/>
<circle cx="1721.6" cy="212.7" r="5.9" fill="#1c1c1c" fill-opacity="0.75"/>
<line x1="1421.9" y1="509.0" x2="1919" y2="-1.4" stroke="#E63F1F" stroke-width="7" stroke-opacity="0.85"/>
<polyline points="1874.5,165.3 1874.5,240 1801.3,240" fill="none" stroke="#000" stroke-width="2"/>
<text transform="translate(1768.0,287.0) scale(1,1.02)" font-size="29.4" text-anchor="start" font-weight="normal" fill="#000" >Slope = 1</text>
<text transform="translate(1771.0,413.6) scale(1,1.02)" font-size="34.2" text-anchor="start" font-weight="normal" fill="#000" >Beijing</text>
<text transform="translate(1751.0,455.8) scale(1,1.02)" font-size="29.5" text-anchor="start" font-weight="normal" fill="#000" >R² = 0.926</text>
<text x="1312.5" y="33.3" font-size="46" text-anchor="start" font-weight="bold" fill="#000" >c</text>
<text transform="translate(1674.4,583.8) scale(1,1.02)" font-size="34.3" text-anchor="middle">log<tspan font-size="20" dy="11.3">10</tspan><tspan dy="-11.3">(Predicted Infra. Vol.)</tspan></text>
<text transform="translate(1353.5,257) rotate(-90) scale(1,1.02)" font-size="34.3" text-anchor="middle">log<tspan font-size="20" dy="11.3">10</tspan><tspan dy="-11.3">(Observed Infra. Vol.)</tspan></text>
<line x1="769.5" y1="679.4" x2="769.5" y2="1167.5500000000002" stroke="#000" stroke-width="3.3"/>
<line x1="767.85" y1="1165.9" x2="1243" y2="1165.9" stroke="#000" stroke-width="3.3"/>
<line x1="761.0" y1="701.8" x2="769.5" y2="701.8" stroke="#333" stroke-width="3.1"/>
<text transform="translate(753.0,712.0) scale(1,1.02)" font-size="28" text-anchor="end" font-weight="normal" fill="#000" >1.0</text>
<line x1="761.0" y1="794.0" x2="769.5" y2="794.0" stroke="#333" stroke-width="3.1"/>
<text transform="translate(753.0,804.2) scale(1,1.02)" font-size="28" text-anchor="end" font-weight="normal" fill="#000" >0.8</text>
<line x1="761.0" y1="886.2" x2="769.5" y2="886.2" stroke="#333" stroke-width="3.1"/>
<text transform="translate(753.0,896.4) scale(1,1.02)" font-size="28" text-anchor="end" font-weight="normal" fill="#000" >0.6</text>
<line x1="761.0" y1="978.4" x2="769.5" y2="978.4" stroke="#333" stroke-width="3.1"/>
<text transform="translate(753.0,988.6) scale(1,1.02)" font-size="28" text-anchor="end" font-weight="normal" fill="#000" >0.4</text>
<line x1="761.0" y1="1070.6" x2="769.5" y2="1070.6" stroke="#333" stroke-width="3.1"/>
<text transform="translate(753.0,1080.8) scale(1,1.02)" font-size="28" text-anchor="end" font-weight="normal" fill="#000" >0.2</text>
<line x1="761.0" y1="1162.8" x2="769.5" y2="1162.8" stroke="#333" stroke-width="3.1"/>
<text transform="translate(753.0,1173.0) scale(1,1.02)" font-size="28" text-anchor="end" font-weight="normal" fill="#000" >0.0</text>
<line x1="771.9" y1="1165.9" x2="771.9" y2="1174.4" stroke="#333" stroke-width="3.1"/>
<text transform="translate(771.9,1202.2) scale(1,1.02)" font-size="28" text-anchor="middle" font-weight="normal" fill="#000" >0.0</text>
<line x1="861.8399999999999" y1="1165.9" x2="861.8399999999999" y2="1174.4" stroke="#333" stroke-width="3.1"/>
<text transform="translate(861.8,1202.2) scale(1,1.02)" font-size="28" text-anchor="middle" font-weight="normal" fill="#000" >0.2</text>
<line x1="951.78" y1="1165.9" x2="951.78" y2="1174.4" stroke="#333" stroke-width="3.1"/>
<text transform="translate(951.8,1202.2) scale(1,1.02)" font-size="28" text-anchor="middle" font-weight="normal" fill="#000" >0.4</text>
<line x1="1041.72" y1="1165.9" x2="1041.72" y2="1174.4" stroke="#333" stroke-width="3.1"/>
<text transform="translate(1041.7,1202.2) scale(1,1.02)" font-size="28" text-anchor="middle" font-weight="normal" fill="#000" >0.6</text>
<line x1="1131.6599999999999" y1="1165.9" x2="1131.6599999999999" y2="1174.4" stroke="#333" stroke-width="3.1"/>
<text transform="translate(1131.7,1202.2) scale(1,1.02)" font-size="28" text-anchor="middle" font-weight="normal" fill="#000" >0.8</text>
<line x1="1221.6" y1="1165.9" x2="1221.6" y2="1174.4" stroke="#333" stroke-width="3.1"/>
<text transform="translate(1221.6,1202.2) scale(1,1.02)" font-size="28" text-anchor="middle" font-weight="normal" fill="#000" >1.0</text>
<text transform="translate(825.9,745.8) scale(1,1.02)" font-size="23.3" text-anchor="start" font-weight="normal" fill="#000" >Shenzhen</text>
<text transform="translate(906.0,801.0) scale(1,1.02)" font-size="23.3" text-anchor="start" font-weight="normal" fill="#000" >Zhengzhou</text>
<text transform="translate(831.5,810.2) scale(1,1.02)" font-size="23.3" text-anchor="start" font-weight="normal" fill="#000" >Xi’an</text>
<text transform="translate(794.1,833.2) scale(1,1.02)" font-size="23.3" text-anchor="start" font-weight="normal" fill="#000" >Shanghai</text>
<text transform="translate(932.7,828.6) scale(1,1.02)" font-size="23.3" text-anchor="start" font-weight="normal" fill="#000" >Hangzhou</text>
<text transform="translate(802.0,860.8) scale(1,1.02)" font-size="23.3" text-anchor="start" font-weight="normal" fill="#000" >Suzhou</text>
<text transform="translate(950.6,856.2) scale(1,1.02)" font-size="23.3" text-anchor="start" font-weight="normal" fill="#000" >Nanjing</text>
<text transform="translate(842.5,936.9) scale(1,1.02)" font-size="23.3" text-anchor="start" font-weight="normal" fill="#000" >Jinan</text>
<text transform="translate(1078.7,969.1) scale(1,1.02)" font-size="23.3" text-anchor="start" font-weight="normal" fill="#000" >Beijing</text>
<text transform="translate(989.2,1061.3) scale(1,1.02)" font-size="23.3" text-anchor="start" font-weight="normal" fill="#000" >Chengdu</text>
<circle cx="877.2" cy="773" r="8.3" fill="#262626" fill-opacity="0.95"/>
<circle cx="893.2" cy="802.8" r="8.3" fill="#262626" fill-opacity="0.95"/>
<circle cx="881.6" cy="808.7" r="8.3" fill="#262626" fill-opacity="0.95"/>
<circle cx="900.6" cy="820.3" r="8.3" fill="#262626" fill-opacity="0.95"/>
<circle cx="911.6" cy="820.9" r="8.3" fill="#262626" fill-opacity="0.95"/>
<circle cx="933.7" cy="854.4" r="8.3" fill="#262626" fill-opacity="0.95"/>
<circle cx="900.6" cy="859.5" r="8.3" fill="#262626" fill-opacity="0.95"/>
<circle cx="911.3" cy="915.1" r="8.3" fill="#262626" fill-opacity="0.95"/>
<circle cx="1040.4" cy="983.2" r="8.3" fill="#262626" fill-opacity="0.95"/>
<circle cx="1060.7" cy="1029" r="8.3" fill="#262626" fill-opacity="0.95"/>
<clipPath id="ce"><rect x="771.2" y="600" width="500" height="563.5"/></clipPath>
<line x1="765" y1="692.2" x2="1228" y2="1166.9" stroke="#E63F1F" stroke-width="7.2" stroke-opacity="0.85" clip-path="url(#ce)"/>
<line x1="1048.9" y1="671.7" x2="1108.3" y2="671.7" stroke="#E0262A" stroke-width="4.2"/>
<text transform="translate(1130.0,679.6) scale(1,1.02)" font-size="30" text-anchor="start" font-weight="normal" fill="#000" >y = 1 - x</text>
<text x="656.0" y="663.8" font-size="46" text-anchor="start" font-weight="bold" fill="#000" >e</text>
<text transform="translate(1000,1242.2) scale(1,1.02)" font-size="34.3" text-anchor="middle">1 - α [P]</text>
<text transform="translate(701.1,908.7) rotate(-90) scale(1,1.02)" font-size="34.3" text-anchor="middle">α [A]</text>
<line x1="1514" y1="657.5" x2="1514" y2="1165.8" stroke="#000" stroke-width="3.6"/>
<line x1="1512.2" y1="1164" x2="1909" y2="1164" stroke="#000" stroke-width="3.6"/>
<line x1="1505.5" y1="687.2" x2="1514" y2="687.2" stroke="#333" stroke-width="3.1"/>
<text transform="translate(1497.0,695.5) scale(1,1.02)" font-size="28" text-anchor="end" font-weight="normal" fill="#000" >Zhengzhou</text>
<line x1="1505.5" y1="736.88" x2="1514" y2="736.88" stroke="#333" stroke-width="3.1"/>
<text transform="translate(1497.0,745.2) scale(1,1.02)" font-size="28" text-anchor="end" font-weight="normal" fill="#000" >Xi’an</text>
<line x1="1505.5" y1="786.5600000000001" x2="1514" y2="786.5600000000001" stroke="#333" stroke-width="3.1"/>
<text transform="translate(1497.0,794.9) scale(1,1.02)" font-size="28" text-anchor="end" font-weight="normal" fill="#000" >Suzhou</text>
<line x1="1505.5" y1="836.24" x2="1514" y2="836.24" stroke="#333" stroke-width="3.1"/>
<text transform="translate(1497.0,844.5) scale(1,1.02)" font-size="28" text-anchor="end" font-weight="normal" fill="#000" >Shenzhen</text>
<line x1="1505.5" y1="885.9200000000001" x2="1514" y2="885.9200000000001" stroke="#333" stroke-width="3.1"/>
<text transform="translate(1497.0,894.2) scale(1,1.02)" font-size="28" text-anchor="end" font-weight="normal" fill="#000" >Shanghai</text>
<line x1="1505.5" y1="935.6" x2="1514" y2="935.6" stroke="#333" stroke-width="3.1"/>
<text transform="translate(1497.0,943.9) scale(1,1.02)" font-size="28" text-anchor="end" font-weight="normal" fill="#000" >Nanjing</text>
<line x1="1505.5" y1="985.28" x2="1514" y2="985.28" stroke="#333" stroke-width="3.1"/>
<text transform="translate(1497.0,993.6) scale(1,1.02)" font-size="28" text-anchor="end" font-weight="normal" fill="#000" >Jinan</text>
<line x1="1505.5" y1="1034.96" x2="1514" y2="1034.96" stroke="#333" stroke-width="3.1"/>
<text transform="translate(1497.0,1043.3) scale(1,1.02)" font-size="28" text-anchor="end" font-weight="normal" fill="#000" >Hangzhou</text>
<line x1="1505.5" y1="1084.64" x2="1514" y2="1084.64" stroke="#333" stroke-width="3.1"/>
<text transform="translate(1497.0,1092.9) scale(1,1.02)" font-size="28" text-anchor="end" font-weight="normal" fill="#000" >Chengdu</text>
<line x1="1505.5" y1="1134.3200000000002" x2="1514" y2="1134.3200000000002" stroke="#333" stroke-width="3.1"/>
<text transform="translate(1497.0,1142.6) scale(1,1.02)" font-size="28" text-anchor="end" font-weight="normal" fill="#000" >Beijing</text>
<line x1="1532.1" y1="1164" x2="1532.1" y2="1172.5" stroke="#333" stroke-width="3.1"/>
<text transform="translate(1532.1,1199.5) scale(1,1.02)" font-size="28" text-anchor="middle" font-weight="normal" fill="#000" >0.6</text>
<line x1="1621.8" y1="1164" x2="1621.8" y2="1172.5" stroke="#333" stroke-width="3.1"/>
<text transform="translate(1621.8,1199.5) scale(1,1.02)" font-size="28" text-anchor="middle" font-weight="normal" fill="#000" >0.7</text>
<line x1="1711.5" y1="1164" x2="1711.5" y2="1172.5" stroke="#333" stroke-width="3.1"/>
<text transform="translate(1711.5,1199.5) scale(1,1.02)" font-size="28" text-anchor="middle" font-weight="normal" fill="#000" >0.8</text>
<line x1="1801.1999999999998" y1="1164" x2="1801.1999999999998" y2="1172.5" stroke="#333" stroke-width="3.1"/>
<text transform="translate(1801.2,1199.5) scale(1,1.02)" font-size="28" text-anchor="middle" font-weight="normal" fill="#000" >0.9</text>
<line x1="1890.8999999999999" y1="1164" x2="1890.8999999999999" y2="1172.5" stroke="#333" stroke-width="3.1"/>
<text transform="translate(1890.9,1199.5) scale(1,1.02)" font-size="28" text-anchor="middle" font-weight="normal" fill="#000" >1.0</text>
<line x1="1746.3" y1="666.4" x2="1746.3" y2="1163" stroke="#000" stroke-width="4.4" stroke-dasharray="18.6 18.3"/>
<circle cx="1699" cy="687.2" r="8.7" fill="#262626" fill-opacity="0.95"/>
<circle cx="1723.2" cy="736.9" r="8.7" fill="#262626" fill-opacity="0.95"/>
<circle cx="1706.3" cy="786.6" r="8.7" fill="#262626" fill-opacity="0.95"/>
<circle cx="1721.2" cy="836.2" r="8.7" fill="#262626" fill-opacity="0.95"/>
<circle cx="1792.1" cy="885.9" r="8.7" fill="#262626" fill-opacity="0.95"/>
<circle cx="1792.6" cy="935.6" r="8.7" fill="#262626" fill-opacity="0.95"/>
<circle cx="1760.9" cy="985.3" r="8.7" fill="#262626" fill-opacity="0.95"/>
<circle cx="1641" cy="1035.0" r="8.7" fill="#262626" fill-opacity="0.95"/>
<circle cx="1828.8" cy="1084.6" r="8.7" fill="#262626" fill-opacity="0.95"/>
<circle cx="1796.1" cy="1134.3" r="8.7" fill="#262626" fill-opacity="0.95"/>
<circle cx="1824.4" cy="687.2" r="8.7" fill="#E63F1F" fill-opacity="0.85"/>
<circle cx="1808.5" cy="736.9" r="8.7" fill="#E63F1F" fill-opacity="0.85"/>
<circle cx="1797.6" cy="786.6" r="8.7" fill="#E63F1F" fill-opacity="0.85"/>
<circle cx="1840.2" cy="836.2" r="8.7" fill="#E63F1F" fill-opacity="0.85"/>
<circle cx="1862.6" cy="885.9" r="8.7" fill="#E63F1F" fill-opacity="0.85"/>
<circle cx="1845.5" cy="935.6" r="8.7" fill="#E63F1F" fill-opacity="0.85"/>
<circle cx="1828.8" cy="985.3" r="8.7" fill="#E63F1F" fill-opacity="0.85"/>
<circle cx="1785" cy="1035.0" r="8.7" fill="#E63F1F" fill-opacity="0.85"/>
<circle cx="1842.4" cy="1084.6" r="8.7" fill="#E63F1F" fill-opacity="0.85"/>
<circle cx="1823.8" cy="1134.3" r="8.7" fill="#E63F1F" fill-opacity="0.85"/>
<line x1="1825.6" y1="666.4" x2="1825.6" y2="1163" stroke="#E63F1F" stroke-width="4.4" stroke-dasharray="18.6 18.3" stroke-opacity="0.85"/>
<line x1="1521" y1="677.2" x2="1577" y2="677.2" stroke="#000" stroke-width="4.4" stroke-dasharray="18.9 18.1"/>
<line x1="1521" y1="713.1" x2="1577" y2="713.1" stroke="#E63F1F" stroke-width="4.4" stroke-dasharray="18.9 18.1" stroke-opacity="0.85"/>
<text transform="translate(1582.0,689.9) scale(1,1.02)" font-size="26" text-anchor="start" font-weight="normal" fill="#000" >R²(P)</text>
<text transform="translate(1582.0,724.3) scale(1,1.02)" font-size="26" text-anchor="start" font-weight="normal" fill="#000" >R²(P, A)</text>
<text x="1317.5" y="660.6" font-size="46" text-anchor="start" font-weight="bold" fill="#000" >f</text>
<text transform="translate(1702.5,1238.9) scale(1,1.02)" font-size="34.3">R²</text>
<text transform="translate(1347,906.5) rotate(-90) scale(1,1.02)" font-size="34.3" text-anchor="middle">City</text>
</svg></body></html>
